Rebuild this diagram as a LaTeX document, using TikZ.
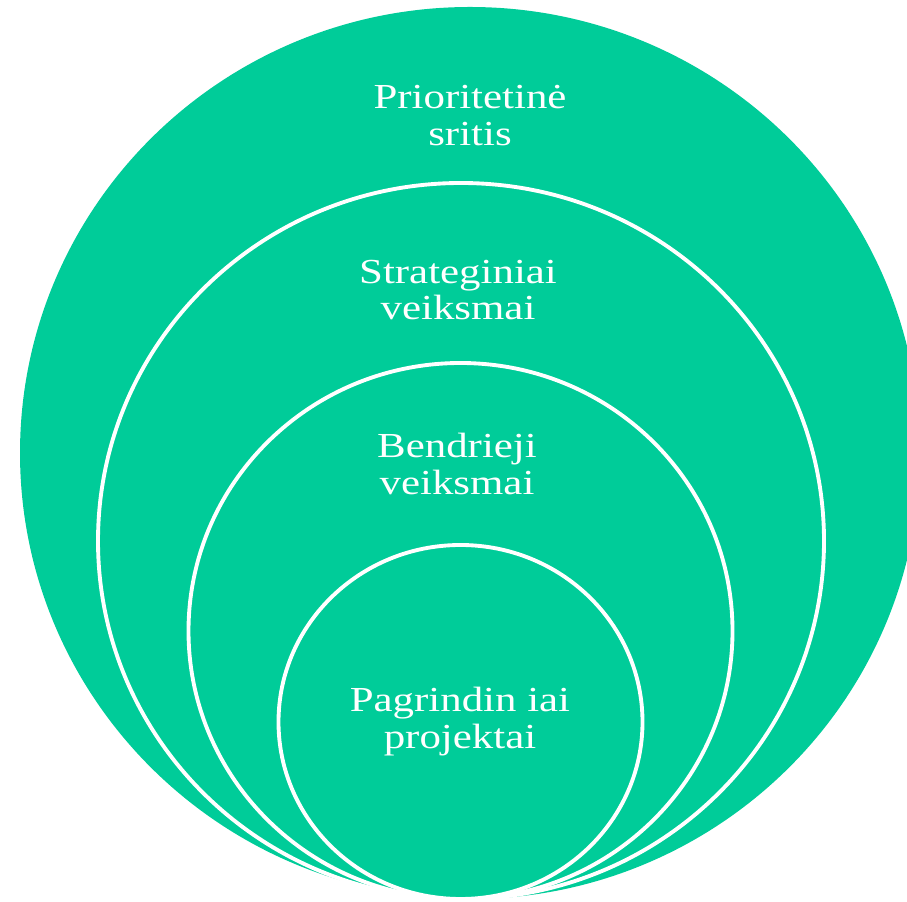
\documentclass[tikz,border=0pt]{standalone}
\usepackage{fontspec}
\setmainfont[FakeStretch=1.22]{Liberation Serif}
\usepackage{tikz}
\definecolor{ringgreen}{RGB}{0,204,153}
\tikzset{
  ring/.style={fill=ringgreen, draw=white, line width=2.2pt},
  ringtext/.style={text=white, align=center, font=\fontsize{20}{21}\selectfont}
}

\begin{document}
\begin{tikzpicture}
            \useasboundingbox (0,0) rectangle (18.14,18.02);
            \clip (0,0) rectangle (18.14,18.02);
            % outer area, no border
            \fill[ringgreen] (9.40,8.96) ellipse [x radius=9.00, y radius=8.92];
            % nested rings, all touching at the bottom
            \draw[ring] (9.22,7.20) ellipse [x radius=7.26, y radius=7.16];
            \draw[ring] (9.21,5.40) ellipse [x radius=5.44, y radius=5.36];
            \draw[ring] (9.21,3.58) ellipse [x radius=3.64, y radius=3.54];

            \node[ringtext] (sritis) at (9.40,15.70) {Prioritetinė\\sritis};
            \node[ringtext] (strateginiai) at (9.16,12.22) {Strateginiai\\veiksmai};
            \node[ringtext] (bendrieji) at (9.14,8.74) {Bendrieji\\veiksmai};
            \node[ringtext] (projektai) at (9.20,3.58) {Pagrindin iai\\projektai};
        \end{tikzpicture}
\end{document}
